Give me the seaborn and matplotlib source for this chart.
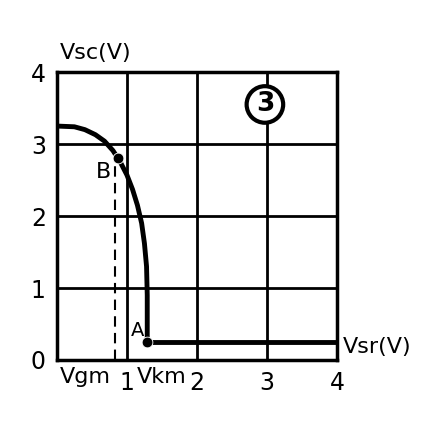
import matplotlib
matplotlib.use("Agg")
import matplotlib.pyplot as plt
import seaborn as sns
import pandas as pd

# curve (Vsr, Vsc)
curve_x = [0.0, 0.25, 0.4, 0.55, 0.68, 0.8, 0.9, 1.0, 1.08, 1.15, 1.21, 1.25, 1.28, 1.29, 1.29]
curve_y = [3.25, 3.24, 3.2, 3.13, 3.04, 2.91, 2.76, 2.57, 2.37, 2.15, 1.9, 1.62, 1.3, 0.9, 0.25]
flat_x = [1.29, 4.0]
flat_y = [0.25, 0.25]
dash_x = [0.83, 0.83]
dash_y = [0.0, 2.82]
pt_names = ["A", "B"]
pt_x = [1.29, 0.87]
pt_y = [0.25, 2.8]
ticks = [0, 1, 2, 3, 4]

sns.set_style("white")
plt.rcParams["font.family"] = ["DejaVu Sans"]
plt.rcParams["text.color"] = "black"
plt.rcParams["xtick.color"] = "black"
plt.rcParams["ytick.color"] = "black"

fig = plt.figure(figsize=(4.31, 4.24), dpi=100)
ax = fig.add_axes([0.132, 0.151, 0.65, 0.679])

curve = pd.DataFrame({"x": curve_x, "y": curve_y})
sns.lineplot(data=curve, x="x", y="y", sort=False, estimator=None,
             color="black", linewidth=3.5, ax=ax)
sns.lineplot(x=flat_x, y=flat_y, color="black", linewidth=3.5, ax=ax)
ax.plot(dash_x, dash_y, color="black", linewidth=1.5, linestyle=(0, (5, 3)))
sns.scatterplot(x=pt_x, y=pt_y, color="black", s=60, zorder=5, ax=ax)

ax.set_xlim(0, 4)
ax.set_ylim(0, 4)
ax.set_xticks(ticks)
ax.set_yticks(ticks)
ax.set_xticklabels(["", "1", "2", "3", "4"])
ax.set_yticklabels(["0", "1", "2", "3", "4"])
ax.tick_params(length=0, labelsize=17, pad=8)
ax.grid(True, color="black", linewidth=2)
for s in ax.spines.values():
    s.set_color("black")
    s.set_linewidth(2.5)
ax.set_xlabel("")
ax.set_ylabel("")

ax.text(0.55, 4.12, "Vsc(V)", fontsize=16, ha="center", va="bottom")
ax.text(4.08, 0.18, "Vsr(V)", fontsize=16, ha="left", va="center", clip_on=False)
ax.text(0.4, -0.1, "Vgm", fontsize=16, ha="center", va="top")
ax.text(1.5, -0.1, "Vkm", fontsize=16, ha="center", va="top")
ax.text(pt_x[1] - 0.1, pt_y[1] - 0.05, pt_names[1], fontsize=16, ha="right", va="top")
ax.text(pt_x[0] - 0.05, pt_y[0] + 0.03, pt_names[0], fontsize=14, ha="right", va="bottom")
ax.text(2.97, 3.55, "3", fontsize=19, fontweight="bold", ha="center", va="center",
        bbox=dict(boxstyle="circle,pad=0.2", fc="white", ec="black", lw=3), zorder=6)

fig.savefig("out.png", dpi=100)
